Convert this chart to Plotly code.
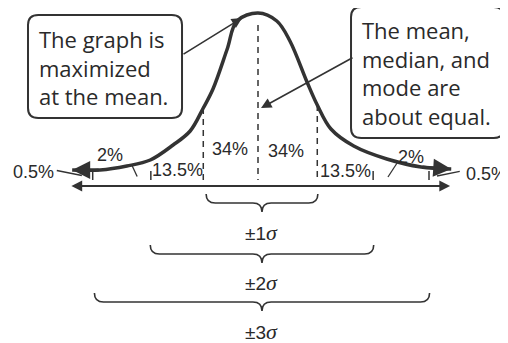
import plotly.graph_objects as go

# ---- data (x in sigma units from the mean, y = height above the axis line) ----
curve_z = [-3.26, -2.77, -2.30, -1.89, -1.49, -1.19, -0.96, -0.79, -0.54, -0.37, 0.0,
           0.33, 0.56, 0.86, 1.04, 1.28, 1.68, 2.26, 2.86, 3.39]
curve_h = [16, 16, 20, 26, 41, 55, 78, 97, 137, 165, 173,
           165, 145, 104, 81, 57, 40, 27, 19, 17]

region_pct = ["0.5%", "2%", "13.5%", "34%", "34%", "13.5%", "2%", "0.5%"]
region_label_z = [-3.93, -2.60, -1.42, -0.49, 0.49, 1.53, 2.68, 4.00]
region_label_h = [14.5, 31, 15.6, 37, 35, 15.5, 29, 12.5]

dash_z = [-0.96, 0.0, 1.04]          # -1 sigma, mean, +1 sigma guide lines
dash_top = [78, 161, 81]

sigma_tick_z = [-2.90, -1.88, 2.02, 3.00]
sigma_levels = [1, 2, 3]
SIG = "<span style='font-family:Liberation Serif;font-size:22px'><i>σ</i></span>"
sigma_labels = ["±1" + SIG, "±2" + SIG, "±3" + SIG]

callout_left = "The graph is<br>maximized<br>at the mean."
callout_right = "The mean,<br>median, and<br>mode are<br>about equal."

INK = "#333333"
TXT = "#2a2a2a"
PCT_FONT = "Liberation Sans, Arial, sans-serif"
BOX_FONT = "Open Sans, Noto Sans, sans-serif"

fig = go.Figure()

# bell curve
fig.add_trace(go.Scatter(x=curve_z, y=curve_h, mode="lines",
                         line=dict(color=INK, width=3.5, shape="spline", smoothing=1.0),
                         hoverinfo="skip", showlegend=False))

# dashed guide lines
for z, top in zip(dash_z, dash_top):
    fig.add_trace(go.Scatter(x=[z, z], y=[top, 6], mode="lines",
                             line=dict(color=INK, width=1.5, dash="6px,5px"),
                             hoverinfo="skip", showlegend=False))

# small +-2, +-3 sigma marks
for z in sigma_tick_z:
    fig.add_trace(go.Scatter(x=[z, z], y=[6, 15], mode="lines",
                             line=dict(color=INK, width=1.5),
                             hoverinfo="skip", showlegend=False))

# leader lines for the small percentages
leaders = [([-3.53, -3.09], [15.5, 10.5]), ([3.14, 3.54], [10, 14.6]),
           ([-2.21, -2.12], [20.6, 9.4]), ([2.44, 2.28], [23, 9])]
for lx, ly in leaders:
    fig.add_trace(go.Scatter(x=lx, y=ly, mode="lines", line=dict(color=INK, width=1.3),
                             hoverinfo="skip", showlegend=False))

ann = []
# curve end arrowheads
ann.append(dict(x=curve_z[0], y=curve_h[0], ax=curve_z[1], ay=curve_h[1], axref="x", ayref="y",
                xref="x", yref="y", text="", showarrow=True, arrowhead=2, arrowsize=1.2,
                arrowwidth=3, arrowcolor=INK))
ann.append(dict(x=curve_z[-1], y=curve_h[-1], ax=curve_z[-2], ay=curve_h[-2], axref="x", ayref="y",
                xref="x", yref="y", text="", showarrow=True, arrowhead=2, arrowsize=1.2,
                arrowwidth=3, arrowcolor=INK))
# horizontal double-arrow axis
ann.append(dict(x=3.37, y=0, ax=-3.30, ay=0, axref="x", ayref="y", xref="x", yref="y",
                text="", showarrow=True, arrowhead=2, arrowside="end+start", arrowsize=1.2,
                arrowwidth=1.8, arrowcolor=INK))

# percentage labels
for t, z, h in zip(region_pct, region_label_z, region_label_h):
    ann.append(dict(x=z, y=h, xref="x", yref="y", text=t, showarrow=False,
                    font=dict(family=PCT_FONT, size=18, color=TXT), xanchor="center", yanchor="middle"))

# braces and sigma labels
c = 0.07
brace_line = [-17, -68, -116]
label_h = [-46, -96, -145]
shapes = []
r = 0.16
for k, yl, lh, lab in zip(sigma_levels, brace_line, label_h, sigma_labels):
    x0, x1 = c - 0.98 * k, c + 0.98 * k
    path = (f"M {x0},{yl+9} Q {x0},{yl} {x0+r},{yl} L {c-r},{yl} Q {c},{yl} {c},{yl-9} "
            f"Q {c},{yl} {c+r},{yl} L {x1-r},{yl} Q {x1},{yl} {x1},{yl+9}")
    shapes.append(dict(type="path", path=path, xref="x", yref="y", line=dict(color=INK, width=1.6)))
    ann.append(dict(x=c, y=lh, xref="x", yref="y", text=lab, showarrow=False,
                    font=dict(family="Liberation Sans, Arial, sans-serif", size=19, color=TXT),
                    xanchor="center", yanchor="middle"))

# callout boxes
def rbox(xa, xb, yb, yt, rx=0.18, ry=10):
    return (f"M {xa+rx},{yt} L {xb-rx},{yt} Q {xb},{yt} {xb},{yt-ry} L {xb},{yb+ry} "
            f"Q {xb},{yb} {xb-rx},{yb} L {xa+rx},{yb} Q {xa},{yb} {xa},{yb+ry} "
            f"L {xa},{yt-ry} Q {xa},{yt} {xa+rx},{yt} Z")

shapes.append(dict(type="path", path=rbox(-4.035, -1.333, 68, 171), xref="x", yref="y",
                   line=dict(color=INK, width=2), fillcolor="white"))
shapes.append(dict(type="path", path=rbox(1.632, 4.316, 48, 179), xref="x", yref="y",
                   line=dict(color=INK, width=2), fillcolor="white"))

ann.append(dict(x=-3.88, y=119, xref="x", yref="y", text=callout_left, showarrow=False, align="left",
                font=dict(family=BOX_FONT, size=22, color=TXT), xanchor="left", yanchor="middle"))
ann.append(dict(x=1.79, y=113, xref="x", yref="y", text=callout_right, showarrow=False, align="left",
                font=dict(family=BOX_FONT, size=22, color=TXT), xanchor="left", yanchor="middle"))

# callout pointer arrows
ann.append(dict(x=-0.28, y=168, ax=-1.333, ay=131, axref="x", ayref="y", xref="x", yref="y",
                text="", showarrow=True, arrowhead=2, arrowsize=1.3, arrowwidth=1.6, arrowcolor=INK))
ann.append(dict(x=0.053, y=78, ax=1.684, ay=129, axref="x", ayref="y", xref="x", yref="y",
                text="", showarrow=True, arrowhead=2, arrowsize=1.3, arrowwidth=1.6, arrowcolor=INK))

# the page body has an 8px margin, so the figure is 500x335 and starts at (8, 8)
fig.update_layout(
    width=500, height=335, margin=dict(l=0, r=0, t=0, b=0),
    paper_bgcolor="white", plot_bgcolor="white",
    xaxis=dict(range=[-250 / 57, 250 / 57], visible=False, fixedrange=True),
    yaxis=dict(range=[-157, 178], visible=False, fixedrange=True),
    shapes=shapes, annotations=ann, showlegend=False,
)

fig.write_html("out.html")
